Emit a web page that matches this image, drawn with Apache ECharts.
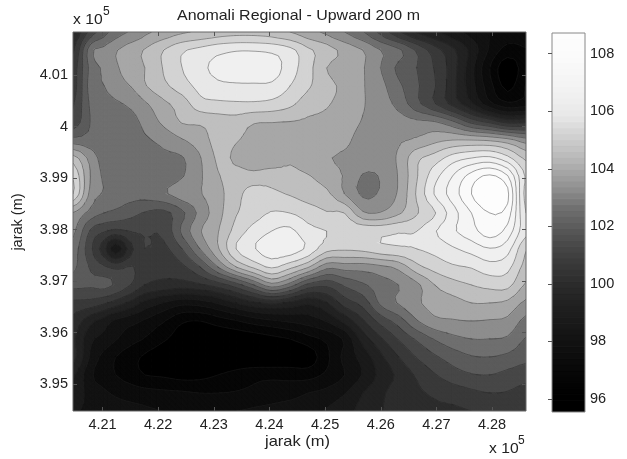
<!DOCTYPE html>
<html><head><meta charset="utf-8">
<style>html,body{margin:0;padding:0;background:#fff}#c{width:627px;height:459px;filter:blur(0.35px)}</style>
<script src="https://cdn.jsdelivr.net/npm/echarts@6/dist/echarts.min.js"></script>
</head><body><div id="c"></div>
<script>
const xs=[4.2047,4.2079,4.2103,4.2124,4.2153,4.2176,4.2210,4.2243,4.2275,4.2307,4.2340,4.2372,4.2404,4.2437,4.2469,4.2503,4.2535,4.2568,4.2600,4.2632,4.2665,4.2697,4.2729,4.2763,4.2796,4.2828,4.2861];
const ys=[4.01835,4.01485,4.01136,4.00786,4.00437,4.00087,3.99738,3.99388,3.99039,3.98689,3.98320,3.97971,3.97621,3.97272,3.96922,3.96573,3.96223,3.95874,3.95524,3.95175,3.94825,3.94476];
const field=[
[99.5,101,101.8,102.4,102.8,103.2,103.6,103.9,104.1,104.3,104.4,104.4,104.3,104,103.6,103.2,102.7,102.1,101.2,100.2,99.4,98.9,98.4,97.9,97.5,97.2,97.2],
[100,102.5,102.9,103.3,103.75,104.05,104.65,105.2,105.5,105.75,105.9,105.9,105.8,105.5,104.8,104.3,103.8,103.35,102.7,102.2,101.3,100.4,99.6,98.6,97.4,96.6,96.8],
[100.4,102.3,102.8,103.25,103.75,104.0,104.7,105.3,105.8,106.1,106.3,106.35,106.3,105.6,104.9,104.0,103.7,103.4,102.7,101.9,101.4,100.7,99.75,98.35,96.85,95.7,96.6],
[100.4,102.4,102.7,103.05,103.4,103.95,104.5,105.0,105.5,105.8,105.85,105.85,105.8,105.3,104.75,104.2,103.85,103.4,102.9,102.2,101.5,100.8,99.7,98.4,97.1,96,96.9],
[100.7,102.2,102.45,102.6,102.85,103.25,103.85,104.3,105.05,105.15,105.2,105.2,105.1,104.8,104.3,104.05,103.8,103.4,103.0,102.5,101.6,100.8,99.9,98.9,97.7,97,97.2],
[101,102.1,102.25,102.35,102.5,102.9,103.5,104.05,104.1,104.3,104.35,104.05,104.02,103.98,103.9,103.85,103.7,103.3,103.1,103.0,102.85,102.75,102.2,101.2,100.6,99.9,100],
[102.3,102.3,102.3,102.3,102.35,102.6,102.9,103.3,103.7,104.2,104.05,103.8,103.7,103.7,103.7,103.7,103.5,103.1,103.0,103.25,103.45,103.8,104,104,103.9,103.6,103.0],
[104.3,103.1,102.45,102.35,102.3,102.3,102.55,102.65,103.3,104.1,103.9,103.65,103.6,103.9,103.6,103.4,103.25,103.1,103.0,103.45,104.5,104.95,105.6,105.95,106.1,105.5,104.5],
[105.2,103.3,102.6,102.35,102.3,102.3,102.35,102.65,103.25,103.95,104.2,104.2,104.35,104.2,104.05,103.7,103.3,102.65,102.75,103.4,104.6,105.7,106.6,107.5,108,107.3,105.2],
[105.3,103.1,102.65,102.4,102.3,102.3,102.6,103.05,103.3,103.8,104.4,105.0,104.8,104.6,104.35,104.15,103.35,102.6,102.8,103.45,104.75,106,106.9,107.9,108.6,108.05,105],
[103.3,102.45,102.05,101.9,101.6,101.35,101.2,101.9,102.9,103.75,104.6,105.0,105.35,105.3,105.0,104.7,104.65,103.45,103.4,103.9,104.6,105.25,106.3,107.25,107.9,107.6,105.3],
[102.9,101.3,100.85,100.6,100.8,100.8,100.9,102.2,103.3,103.95,104.9,105.55,105.95,106.1,105.5,105.3,105.05,105.1,105.1,105.25,105.3,105.9,106.5,107,107.6,107,105.5],
[102.4,100.9,99.7,98.4,100.0,100.75,100.6,101.4,102.7,103.9,105.3,105.9,106.3,106.3,105.8,104.9,104.75,104.85,105.1,105.2,105.3,105.5,105.85,106.2,106.55,106.2,104.7],
[102.2,101.3,100.85,100.6,100.8,100.4,100.2,100.6,101.4,102.7,104,104.8,105.4,104.85,104.1,102.9,103.0,103.0,103.2,103.55,104.45,104.9,105.2,105.35,105.7,105.5,104.4],
[101.6,101.5,101.6,101.3,100.7,100.1,99.9,99.8,100,100.4,101.1,102.05,103.1,102.4,101.2,100.9,101.5,101.95,102.4,102.7,103.2,104,104.4,104.65,104.85,104.85,103.9],
[100.6,100.5,100.2,99.8,99.2,98.6,98.1,97.7,97.8,98.2,98.8,99.3,99.6,99.3,98.9,99.4,100.4,101,102.2,102.75,103.25,103.6,103.75,104,104,103.85,103.2],
[99.9,99,98.5,98,97.7,97.4,96.9,96.3,96.2,96.5,96.8,97.15,97.4,97.6,97.8,98.2,99,100,101,101.7,102.65,103.2,103.3,103.35,103.3,103.2,102.5],
[99.6,98.3,97.95,97.55,97.1,96.8,96.3,95.85,95.6,95.7,95.75,95.85,96,96.2,96.6,97,97.6,99.1,100,100.8,101.5,102.1,102.5,102.7,102.7,102.6,102],
[99.7,98,97.3,96.85,96.4,96.1,95.75,95.6,95.55,95.55,95.6,95.6,95.6,95.7,95.8,96.7,97.7,98.4,99.3,100.1,100.8,101.3,101.7,102,102.05,101.9,101.6],
[98.9,97.6,97.2,96.85,96.5,96.2,96.1,95.95,96,96.2,96.45,96.65,96.7,96.65,96.6,97,97.5,98.2,99,99.6,100.2,100.7,101.1,101.35,101.4,101.2,101],
[98.6,97.9,97.6,97.4,97.2,97.1,97,96.95,96.85,96.85,96.9,97,97.1,97.2,97.5,97.7,98.1,98.8,99.3,99.8,100,100.2,100.4,100.6,100.75,100.7,100.5],
[98.2,98,97.85,97.75,97.7,97.6,97.5,97.5,97.5,97.5,97.5,97.6,97.7,97.9,98,98.2,98.6,99,99.4,99.8,99.9,100,100,100.1,100.2,100.2,100.1]
];
const levels=[95.55,96.2,96.85,97.5,98.15,98.8,99.45,100.1,100.75,101.4,102.05,102.7,103.35,104,104.65,105.3,105.95,106.6,107.25,107.9,108.72];
const xTicks=[4.21,4.22,4.23,4.24,4.25,4.26,4.27,4.28];
const yTicks=[3.95,3.96,3.97,3.98,3.99,4,4.01];
const barTicks=[96,98,100,102,104,106,108];
const grayValues=[95.5,95.9,96.5,97.2,97.8,98.5,99.1,99.8,100.4,101.1,101.7,102.4,103,103.7,104.3,105,105.6,106.3,107,107.6,108.3,108.75];
const grayLevels=[0,0,6,12,18,26,34,44,56,72,90,112,140,168,190,212,232,240,246,250,253,255];

function grayOf(v){
  let i=0;while(i<grayValues.length-2&&v>grayValues[i+1])i++;
  const t=Math.max(0,Math.min(1,(v-grayValues[i])/(grayValues[i+1]-grayValues[i])));
  const g=Math.round(grayLevels[i]+t*(grayLevels[i+1]-grayLevels[i]));
  return 'rgb('+g+','+g+','+g+')';
}
// contouring surface: smooth cubic patch through the read grid values
const SUB=3;
const cr=(p0,p1,p2,p3,t)=>0.5*(2*p1+(p2-p0)*t+(2*p0-5*p1+4*p2-p3)*t*t+(3*p1-p0-3*p2+p3)*t*t*t);
const cl=(n,a)=>Math.max(0,Math.min(n-1,a));
function surf(i,j,tx,ty){
  const col=[];
  for(let m=-1;m<=2;m++){
    const r=field[cl(ys.length,j+m)];
    col.push(cr(r[cl(xs.length,i-1)],r[cl(xs.length,i)],r[cl(xs.length,i+1)],r[cl(xs.length,i+2)],tx));
  }
  return cr(col[0],col[1],col[2],col[3],ty);
}
const rx=[],ry=[],rf=[];
for(let i=0;i<xs.length-1;i++)for(let s=0;s<SUB;s++)rx.push(xs[i]+(xs[i+1]-xs[i])*s/SUB);
rx.push(xs[xs.length-1]);
for(let j=0;j<ys.length-1;j++)for(let s=0;s<SUB;s++)ry.push(ys[j]+(ys[j+1]-ys[j])*s/SUB);
ry.push(ys[ys.length-1]);
for(let j=0;j<ry.length;j++){
  const row=[],J=Math.min(Math.floor(j/SUB),ys.length-2),ty=j/SUB-J;
  for(let i=0;i<rx.length;i++){
    const I=Math.min(Math.floor(i/SUB),xs.length-2),tx=i/SUB-I;
    row.push(surf(I,J,tx,ty));
  }
  rf.push(row);
}
const LV=levels.map(v=>v+0.0013);
function clip(poly,lv,keepAbove){
  const out=[];
  for(let i=0;i<poly.length;i++){
    const a=poly[i],b=poly[(i+1)%poly.length];
    const ia=keepAbove?a[2]>=lv:a[2]<=lv, ib=keepAbove?b[2]>=lv:b[2]<=lv;
    if(ia)out.push(a);
    if(ia!==ib){const t=(lv-a[2])/(b[2]-a[2]);out.push([a[0]+t*(b[0]-a[0]),a[1]+t*(b[1]-a[1]),lv]);}
  }
  return out;
}
function triangles(i,j){
  const a=[rx[i],ry[j],rf[j][i]],b=[rx[i+1],ry[j],rf[j][i+1]],
        c=[rx[i+1],ry[j+1],rf[j+1][i+1]],d=[rx[i],ry[j+1],rf[j+1][i]];
  return [[a,b,c],[a,c,d]];
}
const cells=[];
for(let j=0;j<ry.length-1;j++)for(let i=0;i<rx.length-1;i++)cells.push([i,j]);

function renderFill(p,api){
  const i=api.value(0),j=api.value(1),children=[];
  triangles(i,j).forEach(t=>{
    const vals=t.map(q=>q[2]),mn=Math.min(...vals),mx=Math.max(...vals);
    for(let k=0;k<LV.length-1;k++){
      const lo=k===0?-1e9:LV[k],hi=k===LV.length-2?1e9:LV[k+1];
      if(hi<mn||lo>mx)continue;
      let poly=clip(t,lo,true);if(poly.length<3)continue;
      poly=clip(poly,hi,false);if(poly.length<3)continue;
      const col=grayOf((levels[k]+levels[k+1])/2);
      children.push({type:'polygon',silent:true,shape:{points:poly.map(q=>api.coord([q[0],q[1]]))},
        style:{fill:col,stroke:col,lineWidth:1.2}});
    }
  });
  return {type:'group',children};
}
function renderLines(p,api){
  const i=api.value(0),j=api.value(1),children=[];
  triangles(i,j).forEach(t=>{
    for(let k=1;k<LV.length-1;k++){
      const lv=LV[k],pts=[];
      for(let e=0;e<3;e++){
        const a=t[e],b=t[(e+1)%3];
        if((a[2]<lv)!==(b[2]<lv)){const u=(lv-a[2])/(b[2]-a[2]);pts.push(api.coord([a[0]+u*(b[0]-a[0]),a[1]+u*(b[1]-a[1])]));}
      }
      if(pts.length===2)children.push({type:'line',silent:true,shape:{x1:pts[0][0],y1:pts[0][1],x2:pts[1][0],y2:pts[1][1]},
        style:{stroke:'rgba(30,30,30,0.55)',lineWidth:0.75}});
    }
  });
  return {type:'group',children};
}
function renderBar(p,api){
  const lo=api.value(0),hi=api.value(1);
  const a=api.coord([0,hi]),b=api.coord([1,lo]);
  const col=grayOf((lo+hi)/2-0.25);
  return {type:'rect',silent:true,shape:{x:a[0],y:a[1],width:b[0]-a[0],height:b[1]-a[1]},style:{fill:col,stroke:col,lineWidth:1}};
}
const barMin=levels[0],barMax=levels[levels.length-1],barSteps=64;
const bands=[];
for(let k=0;k<barSteps;k++)bands.push([barMin+(barMax-barMin)*k/barSteps,barMin+(barMax-barMin)*(k+1)/barSteps]);
const font='"Liberation Sans",Arial,sans-serif';
const lab={color:'#222',fontFamily:font,fontSize:14.5};
const tick=(len)=>({show:true,inside:true,length:len,lineStyle:{color:'#555',width:1}});
const mkX=(pos,showLab)=>({type:'value',gridIndex:0,position:pos,min:xs[0],max:xs[xs.length-1],z:10,
  axisLine:{show:false},splitLine:{show:false},
  axisTick:{...tick(4),customValues:xTicks},
  axisLabel:showLab?{...lab,margin:6,customValues:xTicks,formatter:v=>v.toFixed(2)}:{show:false}});
const mkY=(pos,showLab)=>({type:'value',gridIndex:0,position:pos,min:ys[ys.length-1],max:ys[0],z:10,
  axisLine:{show:false},splitLine:{show:false},
  axisTick:{...tick(4),customValues:yTicks},
  axisLabel:showLab?{...lab,margin:5,customValues:yTicks,formatter:v=>String(+v.toFixed(2))}:{show:false}});
const T=(text,x,y,size,sx,extra)=>({type:'text',x,y,scaleX:sx,style:{text,font:size+'px '+font,fill:'#222',textAlign:'left',textVerticalAlign:'middle',...extra}});
const chart=echarts.init(document.getElementById('c'),null,{renderer:'canvas'});
chart.setOption({
  animation:false,backgroundColor:'#fff',
  grid:[
    {left:73,right:101,top:32,bottom:48,show:true,borderColor:'#666',borderWidth:1,backgroundColor:'transparent',z:10},
    {left:552,right:42,top:33,bottom:47,show:true,borderColor:'#888',borderWidth:1,backgroundColor:'transparent',z:10}
  ],
  xAxis:[mkX('bottom',true),mkX('top',false),
    {type:'value',gridIndex:1,min:0,max:1,show:false}],
  yAxis:[mkY('left',true),mkY('right',false),
    {type:'value',gridIndex:1,position:'right',min:barMin,max:barMax,z:10,
     axisLine:{show:false},splitLine:{show:false},
     axisTick:{...tick(4),customValues:barTicks},
     axisLabel:{...lab,margin:5,customValues:barTicks}}],
  series:[
    {type:'custom',xAxisIndex:0,yAxisIndex:0,renderItem:renderFill,data:cells,z:2,clip:true,silent:true,progressive:0},
    {type:'custom',xAxisIndex:0,yAxisIndex:0,renderItem:renderLines,data:cells,z:3,clip:true,silent:true,progressive:0},
    {type:'custom',xAxisIndex:2,yAxisIndex:2,renderItem:renderBar,data:bands,z:2,clip:true,silent:true,progressive:0}
  ],
  graphic:[
    T('Anomali Regional - Upward 200 m',298.5,16,15,1.063,{textAlign:'center'}),
    T('jarak (m)',297.5,442,15,1.1,{textAlign:'center'}),
    {type:'text',x:18,y:222,rotation:Math.PI/2,style:{text:'jarak (m)',font:'14.5px '+font,fill:'#222',textAlign:'center',textVerticalAlign:'middle'}},
    T('x 10',73,20,14.5,1.08),
    T('5',103,11.5,12,1),
    T('x 10',489,449,14.5,1.08),
    T('5',518,441,12,1)
  ]
});
</script></body></html>
